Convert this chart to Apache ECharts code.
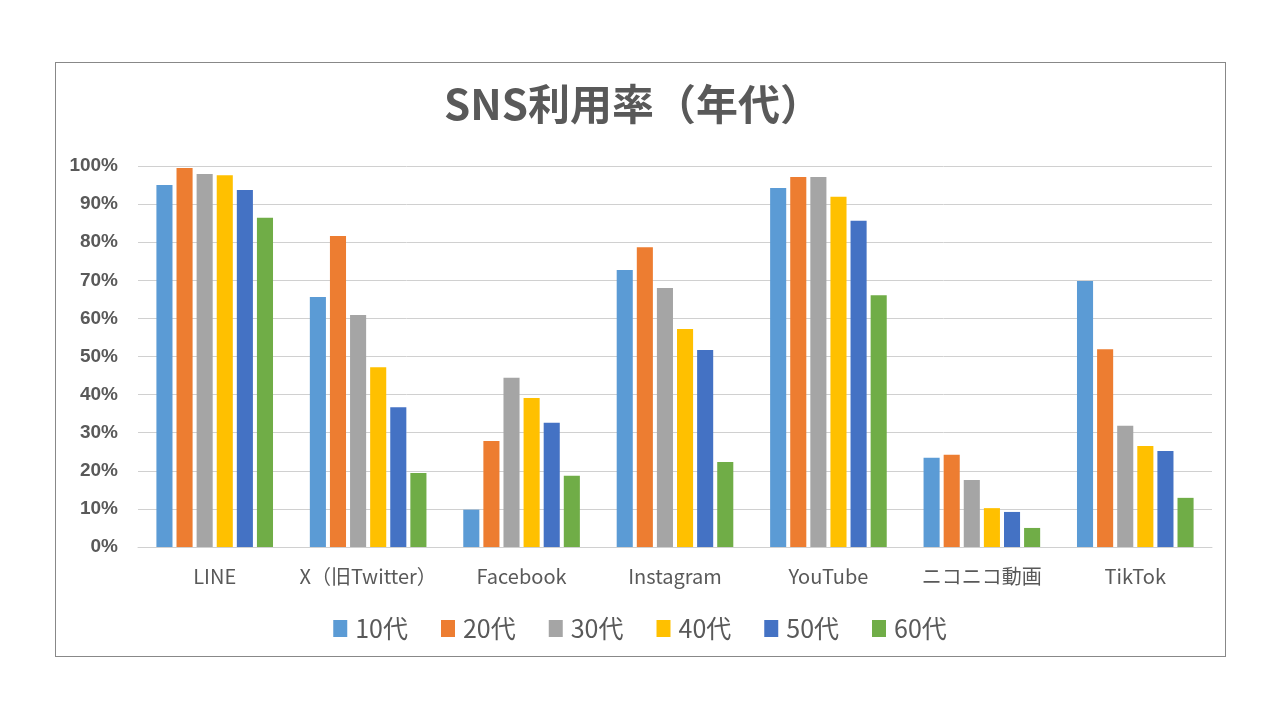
<!DOCTYPE html>
<html>
<head>
<meta charset="utf-8">
<script src="https://cdn.jsdelivr.net/npm/echarts@6/dist/echarts.min.js"></script>
<style>
html,body{margin:0;padding:0;background:#fff;}
#frame{position:absolute;left:55px;top:62px;width:1171px;height:595px;border:1px solid #888;box-sizing:border-box;}
#chart{position:absolute;left:0;top:0;width:1280px;height:720px;}
</style>
</head>
<body>
<div id="frame"></div>
<div id="chart"></div>
<script>
const categories = ['LINE', 'X（旧Twitter）', 'Facebook', 'Instagram', 'YouTube', 'ニコニコ動画', 'TikTok'];
const seriesNames = ['10代', '20代', '30代', '40代', '50代', '60代'];
const v10 = [95.0, 65.6, 9.8, 72.7, 94.2, 23.4, 69.8];
const v20 = [99.5, 81.6, 27.8, 78.7, 97.1, 24.2, 51.9];
const v30 = [97.9, 60.9, 44.4, 68.0, 97.1, 17.6, 31.8];
const v40 = [97.6, 47.2, 39.1, 57.2, 91.9, 10.2, 26.5];
const v50 = [93.7, 36.7, 32.6, 51.7, 85.6, 9.2, 25.2];
const v60 = [86.4, 19.4, 18.7, 22.3, 66.1, 5.0, 12.9];
const values = [v10, v20, v30, v40, v50, v60];
const colors = ['#5B9BD5', '#ED7D31', '#A5A5A5', '#FFC000', '#4472C4', '#70AD47'];

const chart = echarts.init(document.getElementById('chart'));
const font = '"Noto Sans CJK JP", "Noto Sans", sans-serif';
chart.setOption({
  animation: false,
  title: {
    text: 'SNS利用率（年代）',
    left: 628, top: 78, textAlign: 'center',
    textStyle: {fontSize: 42, fontWeight: 'bold', color: '#595959', fontFamily: font}
  },
  grid: {left: 138, right: 68, top: 166, bottom: 173},
  legend: {
    data: seriesNames,
    bottom: 74, left: 'center',
    itemWidth: 14, itemHeight: 17, itemGap: 33,
    icon: 'rect',
    textStyle: {fontSize: 25, color: '#595959', fontFamily: font, padding: [0, 0, 0, 3]}
  },
  xAxis: {
    type: 'category', data: categories,
    axisLine: {lineStyle: {color: '#D0D0D0'}},
    axisTick: {show: false},
    axisLabel: {interval: 0, fontSize: 20, color: '#595959', margin: 19, fontFamily: font}
  },
  yAxis: {
    type: 'value', min: 0, max: 100, interval: 10,
    axisLine: {show: false}, axisTick: {show: false},
    axisLabel: {formatter: '{value}%', fontSize: 19, fontWeight: 'bold', color: '#595959', margin: 20, fontFamily: '"Liberation Sans", Arial, sans-serif'},
    splitLine: {lineStyle: {color: '#D0D0D0', width: 1}}
  },
  series: seriesNames.map((n, i) => ({
    name: n, type: 'bar', data: values[i],
    itemStyle: {color: colors[i]},
    barGap: '25%', barCategoryGap: '24%'
  }))
});
</script>
</body>
</html>
